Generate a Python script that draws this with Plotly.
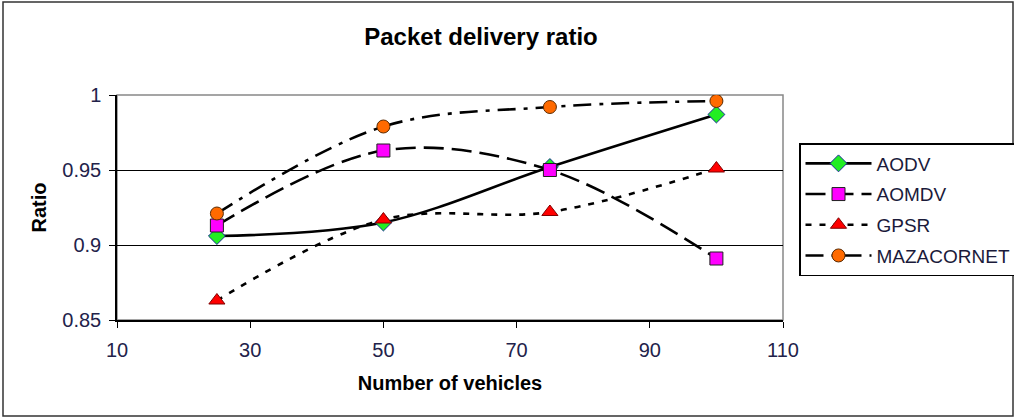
import plotly.graph_objects as go

vehicles = [25, 50, 75, 100]
aodv = [0.906, 0.915, 0.952, 0.987]
aomdv = [0.913, 0.963, 0.950, 0.891]
gpsr = [0.863, 0.917, 0.922, 0.951]
mazacornet = [0.921, 0.979, 0.992, 0.996]

x_ticks = [10, 30, 50, 70, 90, 110]
y_ticks = [0.85, 0.9, 0.95, 1.0]

W, H = 1014, 419
L, R, T, B = 117, 783, 95, 320

series = [
    ("AODV", aodv, "solid", "diamond", "#22ee22", "#1a2a9a", 13),
    ("AOMDV", aomdv, "20px,8px", "square", "#ff00ff", "#202020", 13),
    ("GPSR", gpsr, "6px,8px", "triangle-up", "#ff0000", "#800000", 14),
    ("MAZACORNET", mazacornet, "18px,8px,4px,8px", "circle", "#ff6a00", "#5a2a00", 13),
]

fig = go.Figure()
for name, vals, dash, sym, fill, edge, size in series:
    fig.add_trace(go.Scatter(
        x=vehicles, y=vals, name=name, legendgroup=name, mode="lines+markers",
        line=dict(color="black", width=2.6, dash=dash, shape="spline", smoothing=1.0),
        marker=dict(symbol=sym, size=size, color=fill, line=dict(color=edge, width=1)),
    ))

def px_x(p):
    return (p - L) / (R - L)

def px_y(p):
    return (B - p) / (B - T)

# chart frame and plot-area border
fig.add_shape(type="rect", xref="paper", yref="paper",
              x0=px_x(3), x1=px_x(1013), y0=px_y(416), y1=px_y(2),
              line=dict(color="#333333", width=1.5), layer="below")
fig.add_shape(type="rect", xref="paper", yref="paper",
              x0=0, x1=1, y0=0, y1=1,
              line=dict(color="#888888", width=1.5), layer="below")

tick_color = "#22224a"

fig.update_layout(
    width=W, height=H,
    margin=dict(l=L, r=W - R, t=T, b=H - B, autoexpand=False),
    paper_bgcolor="white", plot_bgcolor="white",
    font=dict(family="Liberation Sans, Arial, sans-serif", color="black", size=18),
    title=dict(text="<b>Packet delivery ratio</b>", x=481 / W, xanchor="center",
               y=1 - 37 / H, yanchor="middle", font=dict(size=24)),
    showlegend=True,
    legend=dict(x=px_x(799), xanchor="left", y=px_y(143), yanchor="top",
                bordercolor="black", borderwidth=1.5, bgcolor="white",
                font=dict(size=19, color="#1a1a3a"), tracegroupgap=3, itemwidth=66),
    xaxis=dict(range=[10, 110], tickvals=x_ticks, ticktext=[str(v) for v in x_ticks],
               showgrid=False, zeroline=False, showline=True, linecolor="black", linewidth=1.5,
               ticks="outside", ticklen=6, tickcolor="black", ticklabelstandoff=5,
               tickfont=dict(size=20, color=tick_color),
               title=dict(text="<b>Number of vehicles</b>", font=dict(size=20), standoff=16)),
    yaxis=dict(range=[0.85, 1.0], tickvals=y_ticks, ticktext=["0.85", "0.9", "0.95", "1"],
               showgrid=True, gridcolor="black", gridwidth=1.2, zeroline=False,
               showline=True, linecolor="black", linewidth=1.5,
               ticks="outside", ticklen=6, tickcolor="black", ticklabelstandoff=4,
               tickfont=dict(size=20, color=tick_color),
               title=dict(text="<b>Ratio</b>", font=dict(size=20), standoff=10)),
)

fig.write_html("out.html")
